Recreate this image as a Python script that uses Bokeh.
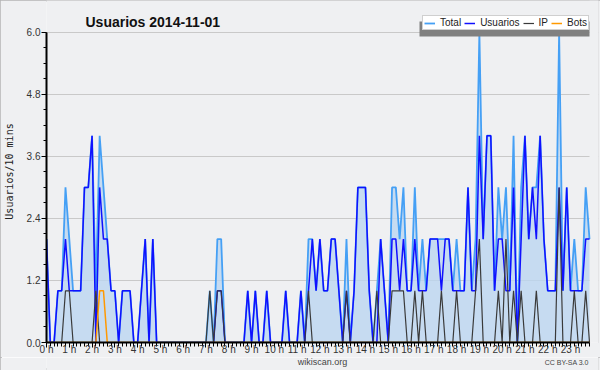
from bokeh.plotting import figure
from bokeh.layouts import column
from bokeh.models import (Range1d, FixedTicker, Legend, LegendItem, Label,
                          BoxAnnotation, ColumnDataSource, PrintfTickFormatter)
from bokeh.embed import file_html
from bokeh.resources import INLINE

# ---- data: one value per 10-minute slot (144 slots = 24 h) ----
slots = list(range(144))
hour_labels = [f"{h} h" for h in range(24)]
ytick_values = [0.0, 1.2, 2.4, 3.6, 4.8, 6.0]

total = [2, 0, 0, 1, 1, 3, 2, 1, 1, 1,
         3, 3, 4, 1, 4, 3, 2, 1, 1, 0,
         1, 1, 1, 0, 0, 1, 2, 0, 2, 0,
         0, 0, 0, 0, 0, 0, 0, 0, 0, 0,
         0, 0, 0, 1, 0, 2, 2, 0, 0, 0,
         0, 0, 0, 1, 0, 1, 0, 0, 1, 0,
         0, 0, 0, 1, 0, 0, 0, 1, 0, 2,
         2, 1, 2, 1, 1, 2, 2, 1, 0, 2,
         0, 1, 3, 3, 3, 1, 0, 1, 2, 1,
         0, 3, 3, 2, 3, 1, 1, 3, 1, 2,
         1, 2, 2, 2, 2, 2, 2, 1, 2, 1,
         1, 3, 1, 2, 6, 2, 4, 4, 1, 3,
         2, 3, 1, 4, 0, 3, 4, 2, 3, 3,
         4, 2, 1, 1, 1, 6, 1, 3, 1, 2,
         1, 1, 3, 2]

usuarios = [2, 0, 0, 1, 1, 2, 1, 1, 1, 1,
            3, 3, 4, 0, 3, 2, 2, 1, 1, 0,
            1, 1, 1, 0, 0, 1, 2, 0, 2, 0,
            0, 0, 0, 0, 0, 0, 0, 0, 0, 0,
            0, 0, 0, 0, 0, 1, 1, 0, 0, 0,
            0, 0, 0, 1, 0, 1, 0, 0, 1, 0,
            0, 0, 0, 1, 0, 0, 0, 1, 0, 1,
            2, 1, 2, 1, 1, 2, 2, 1, 0, 1,
            0, 1, 3, 3, 3, 1, 0, 0, 2, 1,
            0, 2, 2, 1, 2, 1, 1, 2, 1, 1,
            1, 2, 2, 2, 1, 2, 2, 1, 1, 1,
            1, 3, 1, 1, 4, 2, 4, 4, 1, 2,
            2, 1, 1, 3, 0, 2, 4, 2, 3, 2,
            4, 2, 1, 1, 1, 3, 1, 3, 1, 1,
            1, 1, 2, 2]

ip = [0, 0, 0, 0, 0, 1, 1, 0, 0, 0,
      0, 0, 0, 1, 0, 0, 0, 0, 0, 0,
      0, 0, 0, 0, 0, 0, 0, 0, 0, 0,
      0, 0, 0, 0, 0, 0, 0, 0, 0, 0,
      0, 0, 0, 1, 0, 1, 1, 0, 0, 0,
      0, 0, 0, 0, 0, 0, 0, 0, 0, 0,
      0, 0, 0, 0, 0, 0, 0, 0, 0, 1,
      0, 0, 0, 0, 0, 0, 0, 0, 0, 1,
      0, 0, 0, 0, 0, 0, 0, 1, 0, 0,
      0, 1, 1, 1, 1, 0, 0, 1, 0, 1,
      0, 0, 0, 0, 1, 0, 0, 0, 1, 0,
      0, 0, 0, 1, 2, 0, 0, 0, 0, 1,
      0, 2, 0, 1, 0, 1, 0, 0, 0, 1,
      0, 0, 0, 0, 0, 3, 0, 0, 0, 1,
      0, 0, 1, 0]

bots = [0, 0, 0, 0, 0, 0, 0, 0, 0, 0,
        0, 0, 0, 0, 1, 1, 0, 0, 0, 0,
        0, 0, 0, 0, 0, 0, 0, 0, 0, 0,
        0, 0, 0, 0, 0, 0, 0, 0, 0, 0,
        0, 0, 0, 0, 0, 0, 0, 0, 0, 0,
        0, 0, 0, 0, 0, 0, 0, 0, 0, 0,
        0, 0, 0, 0, 0, 0, 0, 0, 0, 0,
        0, 0, 0, 0, 0, 0, 0, 0, 0, 0,
        0, 0, 0, 0, 0, 0, 0, 0, 0, 0,
        0, 0, 0, 0, 0, 0, 0, 0, 0, 0,
        0, 0, 0, 0, 0, 0, 0, 0, 0, 0,
        0, 0, 0, 0, 0, 0, 0, 0, 0, 0,
        0, 0, 0, 0, 0, 0, 0, 0, 0, 0,
        0, 0, 0, 0, 0, 0, 0, 0, 0, 0,
        0, 0, 0, 0]

BG = "#eff0f2"
FONT = "Liberation Sans"

src = ColumnDataSource(dict(x=slots, total=total, usuarios=usuarios, ip=ip, bots=bots))

# The frame reaches the canvas top (title and legend live inside it);
# 0 is drawn at y=344 px and 6.0 at y=32 px, slot 143 at x=589 px.
Y_TOP = 6 + 32 / 52
X_END = 143 + 9 / (543 / 143)
p = figure(width=600, height=357, x_range=Range1d(0, X_END), y_range=Range1d(0, Y_TOP),
           output_backend="svg", toolbar_location=None,
           min_border_left=46, min_border_right=2, min_border_top=0, min_border_bottom=13,
           background_fill_color=BG, border_fill_color=BG, outline_line_color=None)

# hide grid lines to the right of the last slot
p.add_layout(BoxAnnotation(left=143, fill_color=BG, fill_alpha=1, line_color=None,
                           level="underlay"))

p.varea(x="x", y1=0, y2="total", source=src, fill_color="#bbd6f0", fill_alpha=0.8)
r_total = p.line("x", "total", source=src, line_color="#45a0f5", line_width=1.8)
r_usu = p.line("x", "usuarios", source=src, line_color="#1010ff", line_width=1.5)
r_ip = p.line("x", "ip", source=src, line_color="#3a3a3a", line_width=1.2)
r_bots = p.line("x", "bots", source=src, line_color="#ff9900", line_width=1.5)

# x axis
xa = p.xaxis[0]
xa.ticker = FixedTicker(ticks=[6 * h for h in range(24)], minor_ticks=slots)
xa.major_label_overrides = {6 * h: hour_labels[h] for h in range(24)}
xa.bounds = (0, 143)
xa.major_tick_in = 0
xa.major_tick_out = 5
xa.minor_tick_in = 0
xa.minor_tick_out = 4
xa.axis_line_width = 2
xa.axis_line_color = "black"
xa.major_tick_line_color = "black"
xa.minor_tick_line_color = "black"
xa.major_label_text_font = FONT
xa.major_label_text_font_size = "10px"
xa.major_label_text_color = "#333333"
xa.major_label_standoff = -4

# y axis
ya = p.yaxis[0]
yticker = FixedTicker(ticks=ytick_values, minor_ticks=[0.3 * k for k in range(21)])
ya.ticker = yticker
ya.bounds = (0, 6)
ya.formatter = PrintfTickFormatter(format="%.1f")
ya.major_tick_in = 0
ya.major_tick_out = 5
ya.minor_tick_in = 0
ya.minor_tick_out = 3
ya.axis_line_width = 2
ya.axis_line_color = "black"
ya.major_tick_line_color = "black"
ya.minor_tick_line_color = "black"
ya.major_label_text_font = FONT
ya.major_label_text_font_size = "10px"
ya.major_label_text_color = "#333333"
ya.major_label_standoff = 1
ya.axis_label = "Usuarios/10 mins"
ya.axis_label_text_font = "DejaVu Sans Mono"
ya.axis_label_text_font_size = "10px"
ya.axis_label_text_font_style = "normal"
ya.axis_label_text_color = "#222222"
ya.axis_label_standoff = 9

p.xgrid.visible = False
p.ygrid[0].ticker = yticker
p.ygrid.grid_line_color = "#c9c9c9"
p.ygrid.grid_line_width = 1

# legend shadow + legend
p.add_layout(BoxAnnotation(left=419, right=589, top=21, bottom=36,
                           left_units="canvas", right_units="canvas",
                           top_units="canvas", bottom_units="canvas",
                           fill_color="#808080", fill_alpha=1, line_color=None))

legend = Legend(items=[LegendItem(label="Total", renderers=[r_total]),
                       LegendItem(label="Usuarios", renderers=[r_usu]),
                       LegendItem(label="IP", renderers=[r_ip]),
                       LegendItem(label="Bots", renderers=[r_bots])],
                orientation="horizontal", location=(376, 312),
                label_text_font=FONT, label_text_font_size="10px", label_text_color="#222222",
                glyph_width=11, glyph_height=10, label_height=10, label_width=0,
                label_standoff=5, spacing=3, padding=1, margin=0,
                border_line_color="#a0a0a0", border_line_width=1,
                background_fill_color="white", background_fill_alpha=1)
p.add_layout(legend)

# title
p.add_layout(Label(x=39, y=6.2, x_units="screen", y_units="data",
                   text="Usuarios  2014-11-01", text_font=FONT, text_font_style="bold",
                   text_font_size="14px", text_align="left", text_baseline="alphabetic",
                   text_color="#111111"))

# footer strip
f = figure(width=600, height=13, x_range=Range1d(0, 600), y_range=Range1d(0, 13),
           output_backend="svg", toolbar_location=None, min_border=0,
           x_axis_type=None, y_axis_type=None,
           background_fill_color=BG, border_fill_color=BG, outline_line_color=None)
f.add_layout(Label(x=300, y=8.5, text="wikiscan.org", text_font=FONT, text_font_size="9px",
                   text_align="center", text_baseline="alphabetic", text_color="#444444"))
f.add_layout(Label(x=589.5, y=8.5, text="CC BY-SA 3.0", text_font=FONT, text_font_size="7px",
                   text_align="right", text_baseline="alphabetic", text_color="#444444"))

layout = column(p, f, spacing=0,
                styles={"outline": "2px solid #b4b4b4", "outline-offset": "-2px"})

open("out.html", "w").write(file_html(layout, INLINE))
